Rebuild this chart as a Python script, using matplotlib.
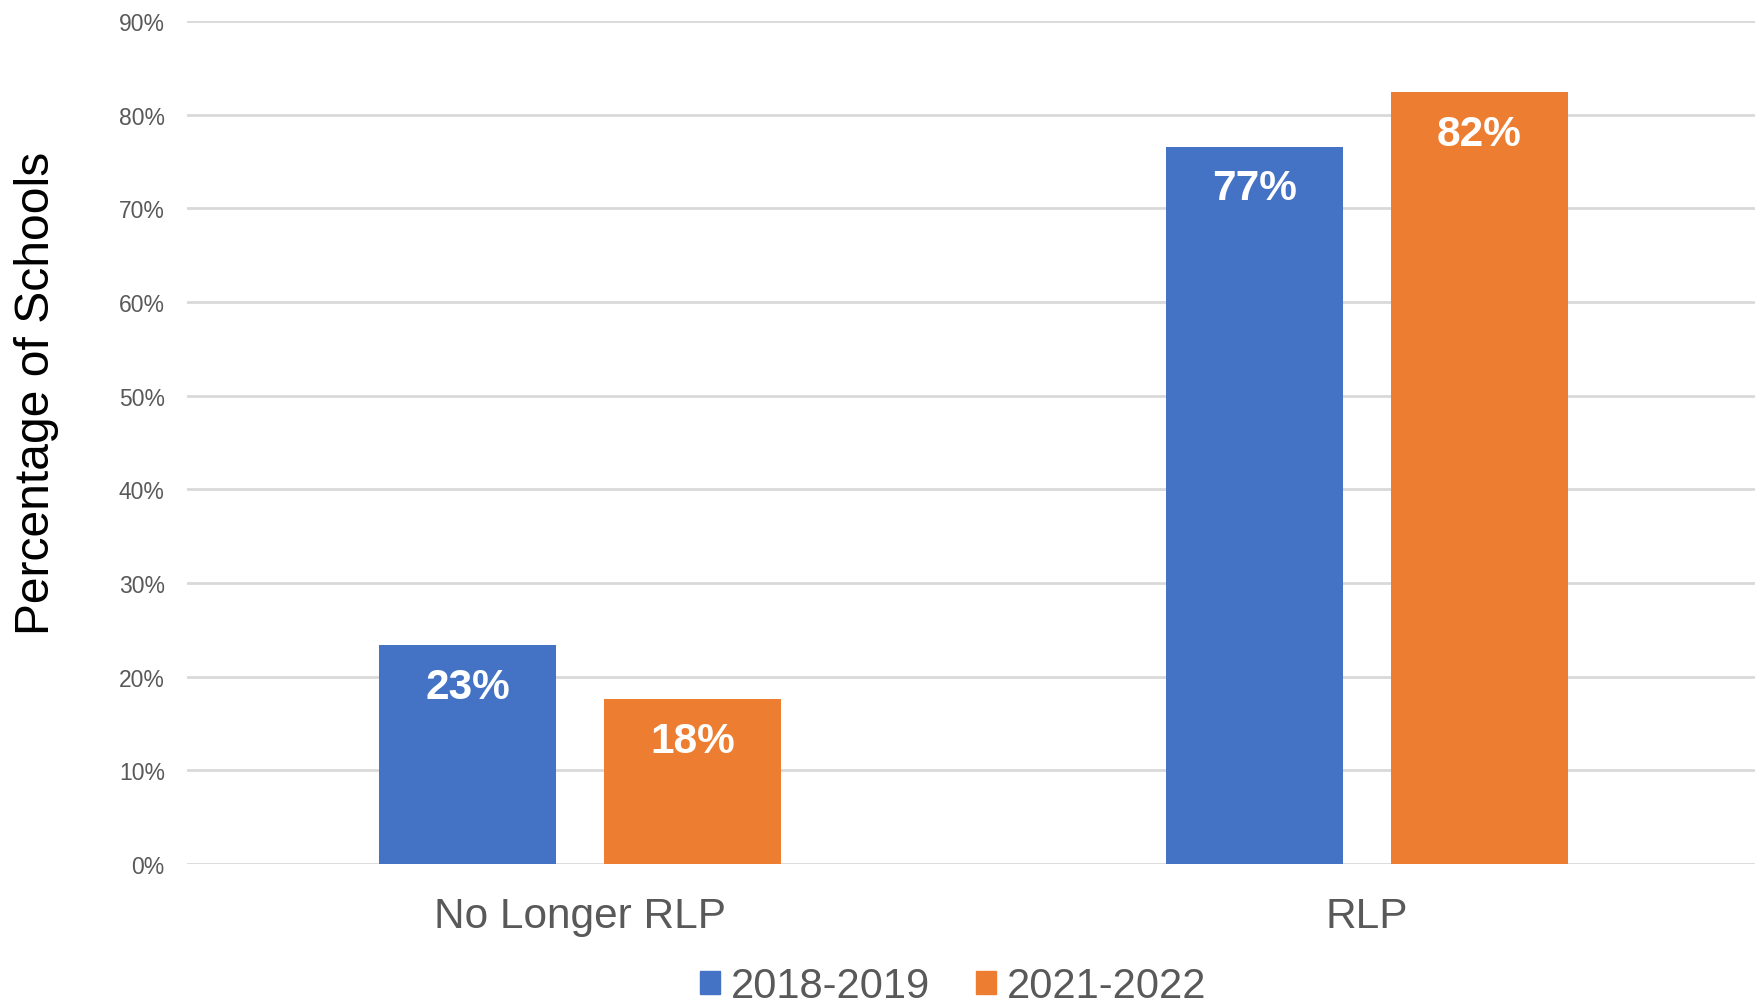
import matplotlib
matplotlib.use("Agg")
import matplotlib.pyplot as plt
from matplotlib.patches import Patch
import numpy as np

categories = ["No Longer RLP", "RLP"]
series_names = ["2018-2019", "2021-2022"]
values_2018 = [23.4, 76.6]
values_2021 = [17.6, 82.4]
labels_2018 = ["23%", "77%"]
labels_2021 = ["18%", "82%"]
y_ticks = [0, 10, 20, 30, 40, 50, 60, 70, 80, 90]

BLUE = "#4472C4"
ORANGE = "#ED7D31"
GRAY_TEXT = "#595959"
GRID = "#D9D9D9"

plt.rcParams["font.family"] = ["Liberation Sans", "DejaVu Sans"]

fig = plt.figure(figsize=(17.56, 10.04), dpi=100)
ax = fig.add_axes([0.1065, 0.1384, 0.8935, 0.8396])

x = np.arange(len(categories))
width = 0.225
offset = 0.143

bars1 = ax.bar(x - offset, values_2018, width, color=BLUE, zorder=3)
bars2 = ax.bar(x + offset, values_2021, width, color=ORANGE, zorder=3)

for bars, labels in [(bars1, labels_2018), (bars2, labels_2021)]:
    for b, lab in zip(bars, labels):
        ax.annotate(lab, (b.get_x() + b.get_width() / 2, b.get_height()),
                    xytext=(0, -30), textcoords="offset points",
                    ha="center", va="center", color="white",
                    fontsize=30.5, fontweight="bold", zorder=4)

ax.set_ylim(0, 90)
ax.set_xlim(-0.5, 1.495)
ax.set_yticks(y_ticks)
ax.set_yticklabels([f"{t}%" for t in y_ticks], fontsize=16.5, color=GRAY_TEXT)
ax.set_xticks(x)
ax.set_xticklabels(categories, fontsize=30.5, color=GRAY_TEXT)
ax.tick_params(axis="y", length=0, pad=16)
ax.tick_params(axis="x", length=0, pad=23)
ax.yaxis.grid(True, color=GRID, linewidth=2, zorder=0)
ax.set_axisbelow(True)
for s in ax.spines.values():
    s.set_visible(False)

fig.text(0.021, 0.608, "Percentage of Schools", rotation=90,
         ha="center", va="center", fontsize=34.6, color="black")

handles = [Patch(color=BLUE), Patch(color=ORANGE)]
fig.legend(handles, series_names, loc="center", bbox_to_anchor=(0.543, 0.017),
           ncol=2, frameon=False, fontsize=30, labelcolor=GRAY_TEXT,
           handlelength=0.48, handleheight=0.48, handletextpad=0.26,
           columnspacing=1.1, borderpad=0)

fig.savefig("out.png", dpi=100)
